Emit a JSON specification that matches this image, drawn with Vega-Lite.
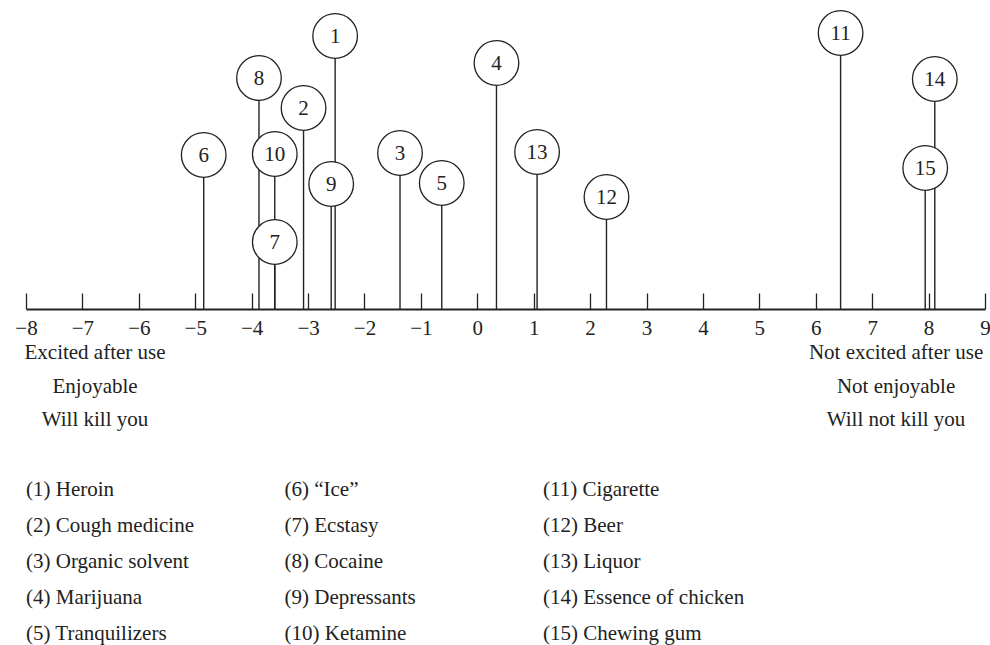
{
  "$schema": "https://vega.github.io/schema/vega-lite/v6.json",
  "padding": {"left": 14, "top": 0, "right": 0, "bottom": 0},
  "bounds": "flush",
  "spacing": 0,
  "config": {
    "view": {"stroke": null},
    "font": "Liberation Serif",
    "text": {"font": "Liberation Serif"}
  },
  "datasets": {
    "drugs": [
      {"id": "1", "name": "Heroin", "legend": "(1) Heroin", "score": -2.52, "height": 273, "col": 1, "row": 1},
      {"id": "2", "name": "Cough medicine", "legend": "(2) Cough medicine", "score": -3.08, "height": 201, "col": 1, "row": 2},
      {"id": "3", "name": "Organic solvent", "legend": "(3) Organic solvent", "score": -1.37, "height": 156, "col": 1, "row": 3},
      {"id": "4", "name": "Marijuana", "legend": "(4) Marijuana", "score": 0.34, "height": 246, "col": 1, "row": 4},
      {"id": "5", "name": "Tranquilizers", "legend": "(5) Tranquilizers", "score": -0.63, "height": 126, "col": 1, "row": 5},
      {"id": "6", "name": "“Ice”", "legend": "(6) “Ice”", "score": -4.85, "height": 154, "col": 2, "row": 1},
      {"id": "7", "name": "Ecstasy", "legend": "(7) Ecstasy", "score": -3.59, "height": 67, "col": 2, "row": 2},
      {"id": "8", "name": "Cocaine", "legend": "(8) Cocaine", "score": -3.87, "height": 231, "col": 2, "row": 3},
      {"id": "9", "name": "Depressants", "legend": "(9) Depressants", "score": -2.59, "height": 125, "col": 2, "row": 4},
      {"id": "10", "name": "Ketamine", "legend": "(10) Ketamine", "score": -3.59, "height": 155, "col": 2, "row": 5},
      {"id": "11", "name": "Cigarette", "legend": "(11) Cigarette", "score": 6.44, "height": 276, "col": 3, "row": 1},
      {"id": "12", "name": "Beer", "legend": "(12) Beer", "score": 2.29, "height": 112, "col": 3, "row": 2},
      {"id": "13", "name": "Liquor", "legend": "(13) Liquor", "score": 1.06, "height": 157, "col": 3, "row": 3},
      {"id": "14", "name": "Essence of chicken", "legend": "(14) Essence of chicken", "score": 8.11, "height": 230, "col": 3, "row": 4},
      {"id": "15", "name": "Chewing gum", "legend": "(15) Chewing gum", "score": 7.94, "height": 141, "col": 3, "row": 5}
    ],
    "notes": [
      {"side": "left", "line": 1, "label": "Excited after use"},
      {"side": "left", "line": 2, "label": "Enjoyable"},
      {"side": "left", "line": 3, "label": "Will kill you"},
      {"side": "right", "line": 1, "label": "Not excited after use"},
      {"side": "right", "line": 2, "label": "Not enjoyable"},
      {"side": "right", "line": 3, "label": "Will not kill you"}
    ]
  },
  "vconcat": [
    {
      "width": 959,
      "height": 309,
      "data": {"name": "drugs"},
      "layer": [
        {
          "mark": {"type": "rule", "color": "#222", "strokeWidth": 1.4},
          "encoding": {
            "x": {
              "field": "score", "type": "quantitative",
              "scale": {"domain": [-8, 9], "nice": false, "zero": false},
              "axis": {
                "values": [-8, -7, -6, -5, -4, -3, -2, -1, 0, 1, 2, 3, 4, 5, 6, 7, 8, 9],
                "title": null, "grid": false,
                "domainColor": "#222", "domainWidth": 1.8,
                "tickColor": "#222", "tickWidth": 1.3, "tickSize": -16,
                "labelFont": "Liberation Serif", "labelFontSize": 21, "labelColor": "#222",
                "labelPadding": 24, "labelFlush": false, "labelOverlap": false
              }
            },
            "y": {"field": "height", "type": "quantitative", "scale": {"domain": [0, 309], "nice": false}, "axis": null},
            "y2": {"datum": 0}
          }
        },
        {
          "mark": {"type": "point", "shape": "circle", "filled": true, "fill": "white", "stroke": "#222", "strokeWidth": 1.3, "size": 1990, "opacity": 1},
          "encoding": {
            "x": {"field": "score", "type": "quantitative"},
            "y": {"field": "height", "type": "quantitative"}
          }
        },
        {
          "mark": {"type": "text", "fontSize": 21, "color": "#222", "baseline": "middle", "align": "center", "dy": 1},
          "encoding": {
            "x": {"field": "score", "type": "quantitative"},
            "y": {"field": "height", "type": "quantitative"},
            "text": {"field": "id"}
          }
        }
      ]
    },
    {
      "width": 959,
      "height": 134,
      "data": {"name": "notes"},
      "mark": {"type": "text", "fontSize": 21, "color": "#222", "align": "center", "baseline": "middle"},
      "encoding": {
        "x": {"field": "side", "type": "ordinal", "scale": {"type": "point", "padding": 0.0986, "align": 0.437}, "axis": null},
        "y": {"field": "line", "type": "ordinal", "scale": {"type": "point", "padding": 1.233, "align": 0.662}, "axis": null},
        "text": {"field": "label"}
      }
    },
    {
      "width": 517,
      "height": 202,
      "data": {"name": "drugs"},
      "mark": {"type": "text", "fontSize": 21, "color": "#222", "align": "left", "baseline": "middle"},
      "encoding": {
        "x": {"field": "col", "type": "ordinal", "scale": {"type": "point", "padding": 0}, "axis": null},
        "y": {"field": "row", "type": "ordinal", "scale": {"type": "point", "padding": 0.806, "align": 0.81}, "axis": null},
        "text": {"field": "legend"}
      }
    }
  ]
}
